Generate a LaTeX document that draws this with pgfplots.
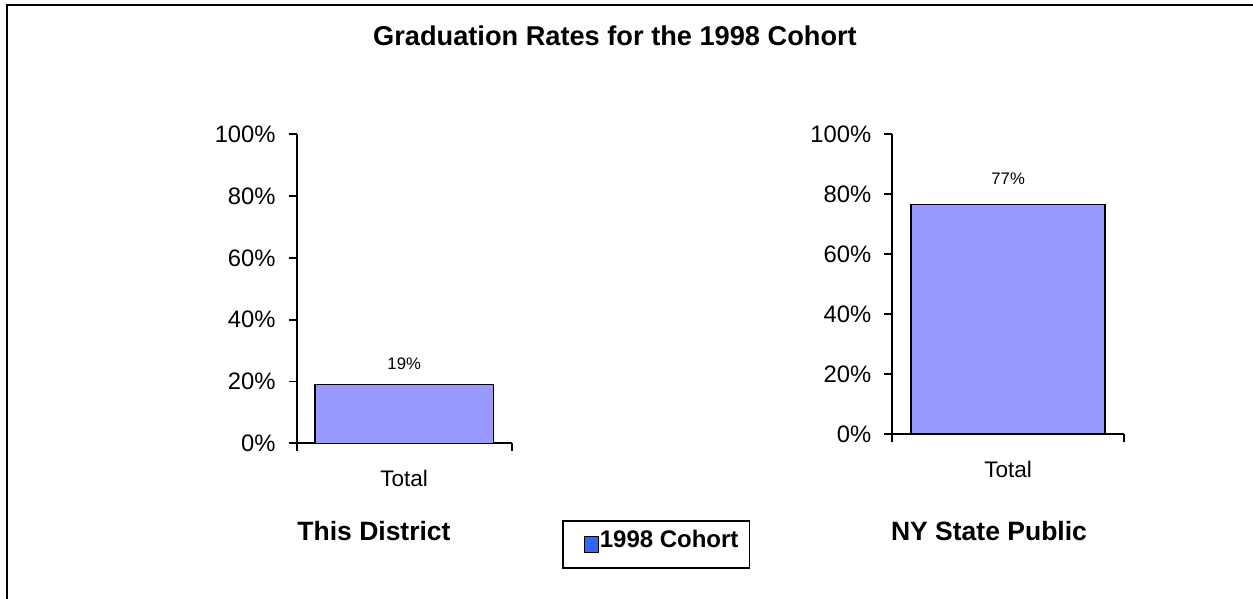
\documentclass[border=0pt]{standalone}
\usepackage{fontspec}
\setmainfont{Liberation Sans}
\usepackage{pgfplots}
\pgfplotsset{compat=1.18}
\definecolor{barfill}{HTML}{9999FF}
\definecolor{legblue}{HTML}{3366FF}
\pgfplotsset{
  gradstyle/.style={
    scale only axis,
    anchor=south west,
    axis x line*=bottom,
    axis y line*=left,
    axis line style={-, line width=0.9pt},
    xmin=0, xmax=1,
    ymin=0, ymax=100,
    ytick={0,20,...,100},
    xtick={0,1},
    xticklabels={},
    tick align=outside,
    xtick pos=bottom,
    ytick pos=left,
    major tick length=4pt,
    tick style={line width=0.9pt, black},
    yticklabel={\pgfmathprintnumber{\tick}\%},
    yticklabel style={font=\fontsize{11.9}{14}\selectfont, xshift=-3pt},
    /pgf/number format/assume math mode=true,
    xlabel={Total},
    xlabel style={font=\fontsize{11.25}{13}\selectfont, at={(axis description cs:0.5,0)}, anchor=center, yshift=-17.5pt},
    clip=false,
  }
}
\begin{document}
\begin{tikzpicture}
\useasboundingbox (0,0) rectangle (626.5pt,299.5pt);
\draw[line width=1pt] (3.4pt,-2pt) -- (3.4pt,297pt) -- (630pt,297pt);
\node[font=\fontsize{13.6}{16}\bfseries\selectfont] at (307.5pt,281.5pt) {Graduation Rates for the 1998 Cohort};
\node[font=\fontsize{13.25}{16}\bfseries\selectfont] at (187pt,34pt) {This District};
\node[font=\fontsize{13.25}{16}\bfseries\selectfont] at (494.5pt,34pt) {NY State Public};

\begin{axis}[gradstyle,
  at={(148.35pt,77.85pt)},
  width=107.5pt, height=154.5pt,
  legend style={at={(axis description cs:1.234,-0.407)}, anchor=south west,
    draw=black, line width=0.8pt,
    inner sep=0pt,
    nodes={inner sep=0pt},
    font=\fontsize{12}{14}\bfseries\selectfont},
  legend image code/.code={\path[draw=none,fill=none] (0pt,-13.975pt) rectangle (18.5pt,9.675pt); \path[fill=legblue, draw=black, line width=0.5pt] (11pt,-6pt) rectangle (18pt,2pt);},
  nodes near coords style={font=\fontsize{8.35}{10}\selectfont, anchor=center, yshift=10.5pt},
]
\addplot[ybar, bar width=89.15pt, fill=barfill, draw=black, line width=0.75pt,
  nodes near coords, point meta=explicit symbolic, forget plot]
  coordinates {(0.5,19) [19\%]};
\addlegendimage{fill=legblue, draw=black, line width=0.5pt}
\addlegendentry{1998 Cohort\rule{5.5pt}{0pt}}
\end{axis}

\begin{axis}[gradstyle,
  at={(446.15pt,82.5pt)},
  width=115.85pt, height=150pt,
  nodes near coords style={font=\fontsize{8.35}{10}\selectfont, anchor=center, yshift=12.8pt},
]
\addplot[ybar, bar width=97pt, fill=barfill, draw=black, line width=0.75pt,
  nodes near coords, point meta=explicit symbolic]
  coordinates {(0.5,76.5) [77\%]};
\end{axis}
\end{tikzpicture}
\end{document}
